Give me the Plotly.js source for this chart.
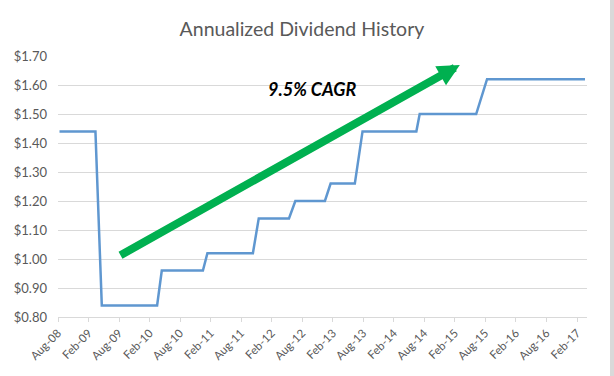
<!DOCTYPE html>
<html>
<head>
<meta charset="utf-8">
<script src="https://cdn.plot.ly/plotly-3.0.1.min.js"></script>
<style>
  html, body { margin: 0; padding: 0; background: #fff; }
  #wrap { width: 610px; height: 376px; border-right: 4px solid #d9d9d9; }
  #chart { width: 610px; height: 376px; }
</style>
</head>
<body>
<div id="wrap"><div id="chart"></div></div>
<script>
// Series: annualized dividend
const dates = [
  '2008-08-10', '2009-03-13', '2009-04-20',
  '2010-03-17', '2010-04-14',
  '2010-12-16', '2011-01-12',
  '2011-10-11', '2011-11-15',
  '2012-05-14', '2012-06-21',
  '2012-12-15', '2013-01-18',
  '2013-06-12', '2013-07-28',
  '2014-06-15', '2014-07-05',
  '2015-06-08', '2015-08-12',
  '2017-03-20'
];
const dividends = [
  1.44, 1.44, 0.84,
  0.84, 0.96,
  0.96, 1.02,
  1.02, 1.14,
  1.14, 1.20,
  1.20, 1.26,
  1.26, 1.44,
  1.44, 1.50,
  1.50, 1.62,
  1.62
];

// Axis and annotation text
const chartTitle = 'Annualized Dividend History';
const cagrLabel = '9.5% CAGR';
const xRange = ['2008-08-01', '2017-04-01'];
const yRange = [0.8, 1.7];
// Trend arrow: tail and head (date, value)
const arrowTail = ['2009-08-01', 1.010];
const arrowHead = ['2015-03-02', 1.669];
const labelPos = ['2012-10-01', 1.585];

const trace = {
  x: dates,
  y: dividends,
  type: 'scatter',
  mode: 'lines',
  line: { color: '#5f97d0', width: 2.5 },
  hoverinfo: 'skip'
};

const layout = {
  width: 610,
  height: 376,
  margin: { l: 58, r: 23, t: 56, b: 59 },
  paper_bgcolor: '#ffffff',
  plot_bgcolor: '#ffffff',
  showlegend: false,
  font: { family: 'Lato, "Open Sans", sans-serif', color: '#595959' },
  title: {
    text: chartTitle,
    font: { family: 'Lato, sans-serif', size: 19.5, color: '#595959' },
    x: 0.495, xanchor: 'center',
    y: 0.923, yanchor: 'middle'
  },
  xaxis: {
    type: 'date',
    range: xRange,
    tick0: '2008-08-01',
    dtick: 'M6',
    tickformat: '%b-%y',
    tickangle: -45,
    ticks: 'outside',
    ticklen: 4,
    tickcolor: '#d9d9d9',
    tickfont: { size: 11.5, color: '#595959' },
    showgrid: false,
    showline: true,
    linecolor: '#d9d9d9',
    linewidth: 1,
    zeroline: false
  },
  yaxis: {
    range: yRange,
    dtick: 0.1,
    tick0: 0.8,
    tickformat: '$.2f',
    tickfont: { size: 13, color: '#595959' },
    showgrid: true,
    gridcolor: '#d9d9d9',
    gridwidth: 1,
    zeroline: false,
    showline: false,
    ticks: '',
    ticklabelstandoff: 10
  },
  annotations: [
    {
      x: arrowHead[0], y: arrowHead[1],
      ax: arrowTail[0], ay: arrowTail[1],
      xref: 'x', yref: 'y', axref: 'x', ayref: 'y',
      text: '',
      showarrow: true,
      arrowhead: 2,
      arrowsize: 0.55,
      arrowwidth: 8,
      arrowcolor: '#00b050',
      standoff: 0,
      startstandoff: 0
    },
    {
      x: labelPos[0], y: labelPos[1],
      xref: 'x', yref: 'y',
      text: '<b><i>' + cagrLabel + '</i></b>',
      showarrow: false,
      font: { family: 'Lato, sans-serif', size: 18, color: '#000000' },
      xanchor: 'center', yanchor: 'middle'
    }
  ]
};

Plotly.newPlot('chart', [trace], layout, { displayModeBar: false, staticPlot: true });
</script>
</body>
</html>
